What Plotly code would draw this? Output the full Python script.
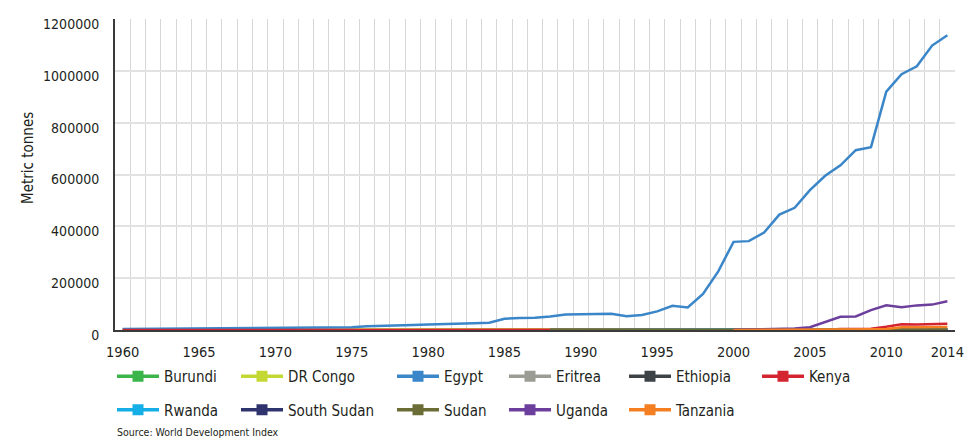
import plotly.graph_objects as go

# Aquaculture production, metric tonnes, 1960-2014
years = list(range(1960, 2015))

countries = ["Burundi", "DR Congo", "Egypt", "Eritrea", "Ethiopia", "Kenya",
             "Rwanda", "South Sudan", "Sudan", "Uganda", "Tanzania"]

colors = {
    "Burundi": "#3bb54a",
    "DR Congo": "#c4d833",
    "Egypt": "#3a86c8",
    "Eritrea": "#9b9c94",
    "Ethiopia": "#3d4247",
    "Kenya": "#d3242f",
    "Rwanda": "#15aee6",
    "South Sudan": "#2f336e",
    "Sudan": "#6a6d35",
    "Uganda": "#6c3f9c",
    "Tanzania": "#f47e20",
}

N = None

burundi = [50, 50, 60, 60, 70, 70, 80, 80, 90, 90,
           100, 100, 100, 100, 100, 100, 100, 100, 100, 100,
           100, 100, 100, 100, 100, 100, 100, 100, 100, 100,
           120, 120, 120, 120, 100, 80, 80, 80, 100, 100,
           100, 100, 150, 200, 200, 200, 200, 200, 200, 200,
           200, 250, 250, 300, 300]

dr_congo = [1000, 1000, 1000, 1000, 1000, 1000, 1000, 1000, 1000, 1000,
            1000, 1000, 1000, 1000, 1000, 1000, 1000, 1000, 1000, 1000,
            1000, 1000, 1000, 1000, 1000, 1000, 1000, 1000, 1000, 1000,
            1000, 1000, 1000, 1000, 1000, 1000, 1000, 1000, 1000, 1000,
            1000, 1000, 1500, 2000, 2500, 2900, 2900, 2900, 2900, 2900,
            2900, 2900, 2900, 2900, 2900]

egypt = [4000, 4500, 5000, 5500, 6000, 6000, 6000, 6000, 6000, 6500,
         7000, 8000, 9000, 10000, 10000, 11000, 14000, 15000, 17000, 19000,
         21000, 22000, 25000, 26000, 28000, 43500, 46000, 47000, 52000, 60000,
         61000, 61000, 63000, 52700, 57700, 72000, 93500, 87000, 139400, 226300,
         340100, 342900, 376300, 445200, 471500, 539700, 595000, 635500, 693800, 705500,
         919600, 986800, 1017700, 1097500, 1137100]

eritrea = [N] * 33 + [0, 0, 0, 0, 0, 0, 0, 0, 0, 0,
                      0, 0, 0, 0, 0, 0, 0, 0, 0, 0,
                      0, 0]

ethiopia = [N] * 28 + [30, 30, 30, 30, 30, 30, 30, 30, 30, 30,
                       30, 30, 30, 30, 30, 30, 30, 30, 30, 30,
                       30, 40, 50, 60, 70, 80, 100]

kenya = [20, 30, 40, 50, 60, 80, 100, 120, 150, 200,
         250, 300, 350, 400, 450, 500, 500, 550, 600, 600,
         650, 700, 750, 800, 850, 900, 1000, 1000, 1100, 1100,
         1100, 1000, 1000, 1100, 1100, 1000, 1100, 1200, 1000, 900,
         500, 1000, 800, 1000, 1000, 1000, 1000, 4250, 4450, 4900,
         12150, 22100, 21500, 23500, 24100]

rwanda = [N] * 28 + [100, 100, 100, 100, 100, 100, 100, 50, 50, 100,
                     200, 300, 400, 500, 500, 600, 700, 800, 900, 1000,
                     1100, 1500, 2000, 2500, 3000, 3200, 3300]

south_sudan = [N] * 51 + [500, 600, 700, 800]

sudan = [N] * 28 + [600, 700, 800, 900, 1000, 1000, 1000, 1000, 1000, 1000,
                    1000, 1000, 1000, 1100, 1500, 1600, 1700, 1900, 2000, 2000,
                    2000, 2000, 2000, 2000, 2000, 2000, 2000]

uganda = [N] * 40 + [820, 2360, 4900, 5500, 5540, 10800, 32400, 51100, 52250, 76650,
                     95000, 88000, 95000, 98000, 111000]

tanzania = [N] * 40 + [200, 250, 300, 400, 500, 1500, 2000, 2500, 3000, 3000,
                       4000, 11000, 11000, 11500, 11500]

series = {
    "Burundi": burundi,
    "DR Congo": dr_congo,
    "Egypt": egypt,
    "Eritrea": eritrea,
    "Ethiopia": ethiopia,
    "Kenya": kenya,
    "Rwanda": rwanda,
    "South Sudan": south_sudan,
    "Sudan": sudan,
    "Uganda": uganda,
    "Tanzania": tanzania,
}

# Legend columns (row 1 / row 2) and the pixel x where each column's text begins
legend_columns = [
    ("legend", ["Burundi", "Rwanda"], 167),
    ("legend2", ["DR Congo", "South Sudan"], 291),
    ("legend3", ["Egypt", "Sudan"], 447),
    ("legend4", ["Eritrea", "Uganda"], 559),
    ("legend5", ["Ethiopia", "Tanzania"], 679),
    ("legend6", ["Kenya"], 812),
]

W, H = 978, 438
ML, MR, MT, MB = 115, 23, 19, 108
PW, PH = W - ML - MR, H - MT - MB

FONT = "DejaVu Sans Condensed, Liberation Sans Narrow, sans-serif"
TXT = "#231f20"
ITEM_W = 42

fig = go.Figure()

for name in countries:
    fig.add_trace(go.Scatter(
        x=years, y=series[name], name=name, mode="lines",
        line=dict(color=colors[name], width=2.5),
        showlegend=False, connectgaps=False,
    ))

# Legend entries: line with a square marker
for legend_id, names, _ in legend_columns:
    for name in names:
        fig.add_trace(go.Scatter(
            x=[None], y=[None], name=name, mode="lines+markers",
            line=dict(color=colors[name], width=3.5),
            marker=dict(symbol="square", size=11, color=colors[name]),
            legend=legend_id, legendgroup=name,
        ))

layout_legends = {}
for legend_id, names, text_px in legend_columns:
    left_px = text_px - (ITEM_W + 13)
    layout_legends[legend_id] = dict(
        xref="container", yref="container",
        x=left_px / W, y=1 - 360 / H,
        xanchor="left", yanchor="top", orientation="v",
        bgcolor="rgba(0,0,0,0)", borderwidth=0,
        font=dict(family=FONT, size=15, color=TXT),
        itemwidth=ITEM_W, tracegroupgap=11, itemclick=False,
    )

fig.update_layout(
    width=W, height=H,
    margin=dict(l=ML, r=MR, t=MT, b=MB, autoexpand=False),
    paper_bgcolor="white", plot_bgcolor="white",
    font=dict(family=FONT, size=15, color=TXT),
    **layout_legends,
)

fig.update_xaxes(
    range=[1959.5, 2014.5],
    tickmode="array",
    tickvals=[1960, 1965, 1970, 1975, 1980, 1985, 1990, 1995, 2000, 2005, 2010, 2014],
    showgrid=False, zeroline=False,
    showline=True, linecolor="#3a3a3a", linewidth=2,
    ticks="", ticklabelstandoff=8,
    tickfont=dict(family=FONT, size=14.5, color=TXT),
    minor=dict(tickmode="linear", tick0=1959.5, dtick=1,
               showgrid=True, gridcolor="#d6d6d6", gridwidth=1, ticks=""),
)

fig.update_yaxes(
    range=[0, 1200000],
    tickmode="array",
    tickvals=[0, 200000, 400000, 600000, 800000, 1000000, 1200000],
    tickformat="d",
    showgrid=True, gridcolor="#e2e2e2", gridwidth=2,
    zeroline=False,
    showline=True, linecolor="#3a3a3a", linewidth=2,
    ticks="", ticklabelstandoff=11, ticklabelshift=5,
    tickfont=dict(family=FONT, size=14, color=TXT),
)

fig.add_annotation(
    text="Metric tonnes", textangle=-90,
    xref="paper", yref="paper",
    x=(28 - ML) / PW, y=(MT + PH - 158) / PH,
    xanchor="center", yanchor="middle",
    showarrow=False, font=dict(family=FONT, size=15, color=TXT),
)

fig.add_annotation(
    text="Source: World Development Index",
    xref="paper", yref="paper",
    x=0, y=(MT + PH - 432) / PH, xanchor="left", yanchor="middle",
    showarrow=False, font=dict(family=FONT, size=10.5, color=TXT),
)

fig.write_html("out.html")
